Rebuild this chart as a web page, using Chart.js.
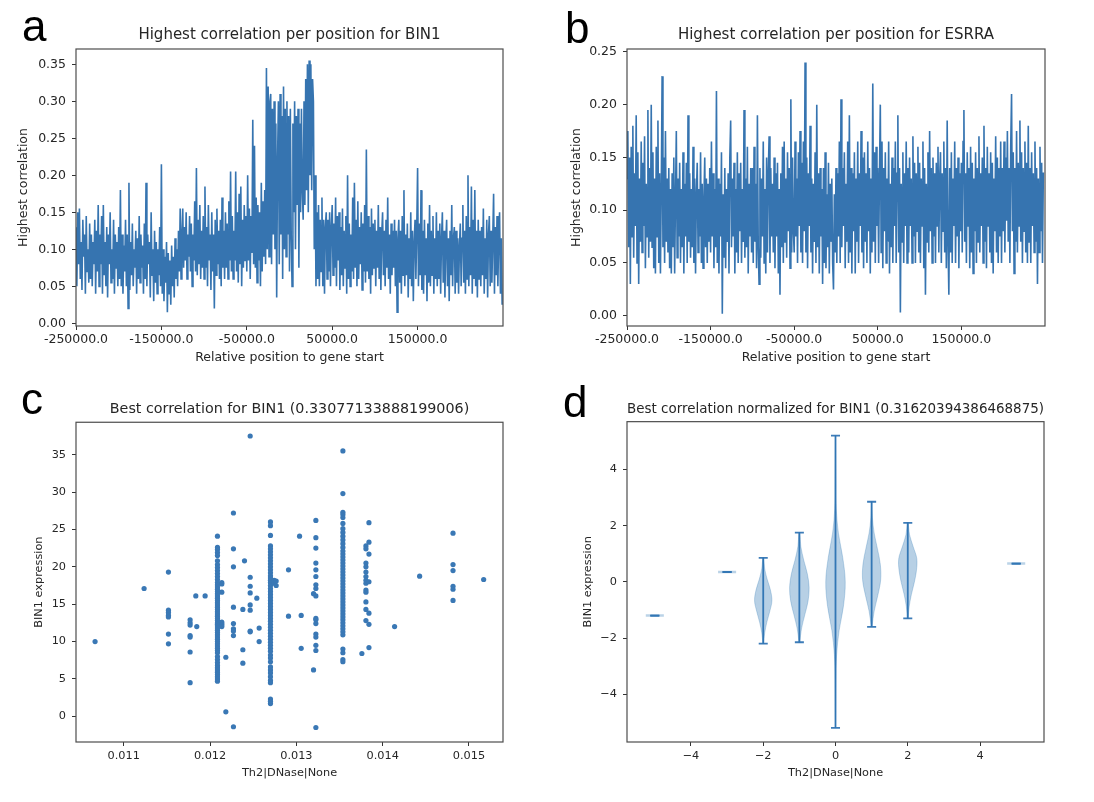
<!DOCTYPE html>
<html>
<head>
<meta charset="utf-8">
<script src="https://cdn.jsdelivr.net/npm/chart.js@4.4.0/dist/chart.umd.min.js"></script>
<style>
  html, body { margin: 0; padding: 0; background: #fff; }
  body { width: 1094px; height: 802px; position: relative; overflow: hidden; }
  .panel { position: absolute; }
  .tag { position: absolute; font-family: "Liberation Sans", Arial, sans-serif; font-size: 44px; line-height: 1; color: #000; }
</style>
</head>
<body>
<div class="panel" style="left:0;top:0;width:547px;height:380px"><canvas id="chartA" width="547" height="380"></canvas></div>
<div class="panel" style="left:547px;top:0;width:547px;height:380px"><canvas id="chartB" width="547" height="380"></canvas></div>
<div class="panel" style="left:0;top:380px;width:547px;height:422px"><canvas id="chartC" width="547" height="422"></canvas></div>
<div class="panel" style="left:547px;top:380px;width:547px;height:422px"><canvas id="chartD" width="547" height="422"></canvas></div>
<div class="tag" style="left:22px;top:4px">a</div>
<div class="tag" style="left:565px;top:6px">b</div>
<div class="tag" style="left:21px;top:377px">c</div>
<div class="tag" style="left:563px;top:380px">d</div>

<script>
// ---- data ----

// panels a/b: positions relative to gene start (one sample every 1000 bp)
const positionStart = -250000;
const positionStep = 1000;
const positionTicks = [-250000, -150000, -50000, 50000, 150000];

const bin1Correlation = [
  0.13,0.05,0.15,0.08,0.155,0.06,0.11,0.045,0.14,0.09,0.12,0.04,0.145,0.07,0.1,0.055,0.135,0.06,0.12,0.05,0.11,0.08,0.14,0.04,0.125,
  0.07,0.16,0.05,0.12,0.08,0.145,0.04,0.16,0.065,0.11,0.05,0.13,0.035,0.12,0.08,0.15,0.055,0.1,0.06,0.14,0.04,0.12,0.075,0.11,0.05,
  0.13,0.06,0.18,0.05,0.12,0.04,0.105,0.07,0.14,0.05,0.12,0.02,0.19,0.045,0.11,0.065,0.135,0.05,0.1,0.075,0.125,0.04,0.115,0.06,0.145,
  0.055,0.12,0.075,0.105,0.04,0.135,0.06,0.19,0.05,0.12,0.08,0.11,0.035,0.15,0.065,0.1,0.03,0.125,0.055,0.11,0.04,0.1,0.065,0.13,0.05,
  0.215,0.04,0.1,0.03,0.09,0.055,0.11,0.015,0.095,0.04,0.085,0.025,0.105,0.05,0.09,0.035,0.115,0.06,0.1,0.05,0.125,0.07,0.155,0.06,0.12,
  0.155,0.075,0.13,0.085,0.15,0.06,0.12,0.09,0.145,0.07,0.135,0.05,0.12,0.085,0.165,0.07,0.21,0.065,0.14,0.08,0.16,0.06,0.125,0.075,0.145,
  0.06,0.185,0.075,0.13,0.05,0.16,0.085,0.12,0.045,0.15,0.07,0.12,0.02,0.14,0.065,0.155,0.08,0.125,0.06,0.14,0.05,0.17,0.075,0.125,0.06,
  0.15,0.075,0.135,0.06,0.165,0.085,0.205,0.07,0.145,0.06,0.125,0.085,0.205,0.07,0.15,0.055,0.175,0.08,0.185,0.05,0.14,0.075,0.16,0.085,0.145,
  0.07,0.2,0.085,0.155,0.06,0.145,0.095,0.275,0.08,0.24,0.075,0.17,0.055,0.16,0.085,0.15,0.05,0.19,0.07,0.165,0.09,0.18,0.08,0.345,0.1,
  0.32,0.09,0.3,0.31,0.08,0.29,0.12,0.3,0.1,0.27,0.035,0.22,0.3,0.08,0.31,0.12,0.28,0.06,0.32,0.1,0.29,0.09,0.3,0.12,0.28,
  0.07,0.29,0.12,0.05,0.27,0.15,0.3,0.1,0.28,0.16,0.29,0.075,0.27,0.15,0.29,0.18,0.14,0.3,0.16,0.33,0.18,0.35,0.15,0.355,0.2,
  0.35,0.18,0.33,0.3,0.1,0.2,0.05,0.15,0.06,0.16,0.05,0.14,0.07,0.17,0.05,0.14,0.04,0.13,0.15,0.06,0.14,0.07,0.15,0.05,0.13,
  0.16,0.065,0.135,0.075,0.17,0.05,0.145,0.085,0.15,0.045,0.13,0.065,0.155,0.05,0.125,0.075,0.145,0.04,0.2,0.06,0.135,0.05,0.12,0.07,0.17,
  0.06,0.19,0.075,0.14,0.05,0.165,0.06,0.13,0.08,0.15,0.045,0.135,0.07,0.16,0.055,0.235,0.07,0.145,0.06,0.13,0.04,0.155,0.065,0.135,0.075,
  0.14,0.05,0.125,0.075,0.16,0.06,0.13,0.045,0.12,0.15,0.065,0.125,0.05,0.14,0.075,0.17,0.06,0.12,0.04,0.135,0.065,0.125,0.075,0.14,0.05,
  0.125,0.015,0.115,0.14,0.055,0.125,0.04,0.145,0.065,0.18,0.05,0.12,0.065,0.135,0.035,0.115,0.06,0.15,0.05,0.125,0.03,0.11,0.14,0.06,0.125,
  0.21,0.05,0.135,0.065,0.18,0.045,0.125,0.04,0.14,0.065,0.115,0.03,0.135,0.055,0.16,0.05,0.125,0.065,0.145,0.04,0.115,0.06,0.15,0.05,0.125,
  0.06,0.135,0.04,0.115,0.15,0.055,0.125,0.035,0.11,0.14,0.05,0.115,0.03,0.125,0.065,0.16,0.05,0.115,0.13,0.04,0.125,0.055,0.115,0.04,0.105,
  0.135,0.05,0.115,0.16,0.055,0.125,0.04,0.145,0.06,0.2,0.05,0.13,0.065,0.185,0.04,0.14,0.06,0.18,0.05,0.125,0.035,0.14,0.06,0.125,0.05,
  0.13,0.065,0.155,0.04,0.115,0.06,0.14,0.035,0.12,0.145,0.05,0.125,0.055,0.115,0.175,0.04,0.13,0.065,0.145,0.05,0.12,0.15,0.04,0.115,0.025
];

const esrraCorrelation = [
  0.13,0.175,0.065,0.15,0.03,0.16,0.075,0.18,0.055,0.135,0.085,0.19,0.05,0.155,0.03,0.13,0.07,0.165,0.06,0.145,0.085,0.17,0.045,0.125,0.075,
  0.195,0.055,0.14,0.07,0.2,0.065,0.155,0.045,0.13,0.04,0.16,0.075,0.185,0.05,0.135,0.04,0.12,0.227,0.065,0.15,0.05,0.175,0.07,0.13,0.06,
  0.14,0.045,0.12,0.04,0.135,0.065,0.15,0.04,0.11,0.175,0.055,0.13,0.075,0.145,0.05,0.12,0.065,0.155,0.04,0.125,0.075,0.145,0.05,0.19,0.07,
  0.135,0.055,0.12,0.065,0.16,0.05,0.13,0.04,0.115,0.145,0.06,0.12,0.075,0.155,0.05,0.125,0.045,0.11,0.15,0.065,0.13,0.05,0.125,0.07,0.14,
  0.06,0.165,0.075,0.135,0.045,0.12,0.065,0.213,0.05,0.13,0.04,0.125,0.075,0.155,0.002,0.115,0.055,0.14,0.045,0.12,0.07,0.135,0.04,0.15,0.185,
  0.065,0.13,0.075,0.145,0.04,0.12,0.06,0.155,0.05,0.135,0.08,0.145,0.05,0.12,0.07,0.195,0.055,0.13,0.065,0.16,0.04,0.125,0.075,0.14,0.06,
  0.14,0.05,0.16,0.07,0.125,0.045,0.19,0.065,0.03,0.14,0.055,0.13,0.075,0.165,0.05,0.12,0.04,0.15,0.06,0.135,0.17,0.05,0.14,0.075,0.125,
  0.06,0.15,0.045,0.135,0.075,0.145,0.04,0.12,0.02,0.135,0.065,0.16,0.05,0.165,0.07,0.13,0.055,0.155,0.08,0.14,0.045,0.205,0.06,0.15,0.08,
  0.06,0.165,0.075,0.13,0.05,0.155,0.085,0.175,0.06,0.145,0.05,0.165,0.08,0.24,0.06,0.15,0.045,0.135,0.085,0.18,0.06,0.13,0.04,0.125,0.07,
  0.155,0.05,0.2,0.065,0.135,0.04,0.14,0.075,0.12,0.03,0.14,0.05,0.155,0.045,0.115,0.065,0.145,0.04,0.125,0.07,0.13,0.05,0.025,0.115,0.06,
  0.14,0.05,0.135,0.075,0.165,0.05,0.205,0.065,0.14,0.085,0.155,0.045,0.125,0.07,0.165,0.05,0.19,0.06,0.14,0.04,0.135,0.08,0.155,0.04,0.13,
  0.07,0.165,0.05,0.135,0.085,0.175,0.06,0.15,0.045,0.155,0.07,0.135,0.05,0.165,0.08,0.14,0.04,0.13,0.06,0.22,0.07,0.155,0.05,0.16,0.085,
  0.14,0.05,0.135,0.2,0.06,0.165,0.045,0.14,0.08,0.155,0.05,0.13,0.07,0.165,0.04,0.125,0.065,0.15,0.05,0.14,0.085,0.165,0.05,0.135,0.19,
  0.06,0.14,0.003,0.125,0.07,0.155,0.05,0.135,0.085,0.165,0.05,0.14,0.06,0.15,0.085,0.13,0.05,0.17,0.075,0.145,0.05,0.135,0.08,0.16,0.06,
  0.145,0.05,0.13,0.085,0.165,0.045,0.14,0.02,0.125,0.07,0.155,0.06,0.175,0.08,0.14,0.05,0.15,0.075,0.135,0.05,0.145,0.085,0.16,0.06,0.13,
  0.155,0.05,0.135,0.08,0.165,0.06,0.14,0.045,0.185,0.07,0.02,0.14,0.06,0.155,0.05,0.13,0.085,0.165,0.05,0.14,0.075,0.15,0.045,0.135,0.08,
  0.145,0.06,0.165,0.195,0.07,0.135,0.05,0.155,0.085,0.14,0.045,0.16,0.06,0.145,0.04,0.13,0.08,0.155,0.05,0.14,0.07,0.17,0.06,0.135,0.085,
  0.15,0.05,0.18,0.07,0.14,0.045,0.16,0.085,0.135,0.06,0.155,0.05,0.145,0.04,0.13,0.08,0.17,0.06,0.15,0.05,0.14,0.075,0.165,0.05,0.14,
  0.08,0.165,0.06,0.15,0.09,0.175,0.07,0.14,0.05,0.16,0.21,0.08,0.155,0.04,0.14,0.07,0.175,0.06,0.145,0.085,0.185,0.07,0.155,0.05,0.14,
  0.08,0.165,0.06,0.145,0.05,0.18,0.07,0.14,0.05,0.155,0.085,0.135,0.06,0.165,0.07,0.14,0.03,0.13,0.06,0.16,0.08,0.145,0.05,0.135,0.135
];

// panel c: DNase signal levels and the BIN1 expression values found at each
const dnaseLevels = [
  0.010668, 0.011236, 0.011518, 0.011769, 0.011835, 0.011846, 0.011943, 0.012086,
  0.012136, 0.012183, 0.012271, 0.01238, 0.012399, 0.012465, 0.012542, 0.012569,
  0.0127, 0.012743, 0.012766, 0.012909, 0.013037, 0.013056, 0.013199, 0.013226,
  0.013539, 0.013759, 0.013806, 0.013841, 0.014138, 0.014428, 0.014815, 0.01517
];
const expressionAtLevel = [
  [10.0],
  [17.1],
  [19.3, 14.2, 13.9, 13.5, 13.3, 11.0, 9.7],
  [12.9, 12.5, 12.2, 10.8, 10.6, 8.6, 4.5],
  [16.1],
  [12.0],
  [16.1],
  [24.1, 22.6, 22.3, 21.9, 21.5, 20.8, 20.3, 19.9, 19.5, 19.1, 18.7, 18.3, 17.9, 17.6,
   17.3, 17.0, 16.7, 16.4, 16.1, 15.8, 15.5, 15.2, 14.9, 14.6, 14.3, 14.0, 13.7, 13.4,
   13.1, 12.8, 12.5, 12.3, 12.1, 11.8, 11.5, 11.2, 10.9, 10.6, 10.3, 10.0, 9.7, 9.4,
   9.1, 8.8, 8.5, 8.0, 7.6, 7.2, 6.8, 6.5, 6.2, 5.9, 5.6, 5.3, 5.0, 4.7],
  [17.9, 17.7, 16.6, 12.6, 12.4, 12.2, 12.0],
  [7.9, 0.6],
  [27.2, 22.4, 20.0, 14.6, 12.4, 11.7, 11.4, 10.8, -1.4],
  [8.9, 7.1, 14.3],
  [20.8],
  [37.5, 18.6, 17.4, 16.5, 14.9, 14.2, 11.4, 11.3],
  [15.8],
  [11.8, 10.0],
  [26.0, 25.5, 24.2, 22.8, 22.4, 22.0, 21.6, 21.2, 20.8, 20.4, 20.0, 19.6, 19.2, 18.8,
   18.5, 18.2, 17.9, 17.5, 17.1, 16.7, 16.3, 15.9, 15.5, 15.1, 14.7, 14.3, 13.9, 13.5,
   13.1, 12.7, 12.3, 11.9, 11.5, 11.1, 10.7, 10.3, 9.9, 9.5, 9.1, 8.7, 8.2, 7.8, 7.3,
   6.6, 6.2, 5.8, 5.3, 4.8, 4.5, 2.3, 2.0, 1.7],
  [18.2, 17.8],
  [18.1, 17.5],
  [19.6, 13.4],
  [24.1],
  [13.5, 9.1],
  [6.2, 16.4],
  [26.2, 23.9, 22.5, 20.5, 19.6, 18.7, 17.6, 17.1, 16.1, 13.1, 12.9, 12.4, 11.0, 10.6, 9.5, 8.8, -1.5],
  [35.5, 29.8, 27.3, 27.0, 26.6, 25.8, 25.1, 24.6, 24.1, 23.6, 23.1, 22.6, 22.1, 21.7,
   21.3, 20.9, 20.5, 20.1, 19.7, 19.3, 18.9, 18.5, 18.1, 17.7, 17.3, 16.9, 16.5, 16.1,
   15.7, 15.3, 14.9, 14.5, 14.1, 13.7, 13.3, 12.9, 12.5, 12.1, 11.7, 11.3, 10.9, 9.0,
   8.5, 7.6, 7.3],
  [8.4],
  [22.8, 22.4, 20.5, 20.0, 19.3, 18.7, 18.2, 17.8, 16.9, 16.6, 15.3, 14.3, 12.8],
  [25.9, 23.3, 21.7, 18.0, 13.8, 12.3, 9.2],
  [12.0],
  [18.75],
  [24.5, 20.3, 19.5, 17.4, 17.0, 15.5],
  [18.3]
];

// panel d: violins (normalized DNase level -> BIN1 expression)
const violinPositions = [-5, -3, -2, -1, 0, 1, 2, 5];
const violinMins = [-1.2, 0.35, -2.2, -2.15, -5.2, -1.6, -1.3, 0.65];
const violinMaxs = [-1.2, 0.35, 0.85, 1.75, 5.2, 2.85, 2.1, 0.65];
// half widths of each body, from its minimum up to its maximum
const violinHalfWidths = [
  [],
  [],
  [0.01, 0.04, 0.10, 0.18, 0.24, 0.20, 0.11, 0.04, 0.01],
  [0.01, 0.06, 0.15, 0.24, 0.27, 0.22, 0.12, 0.04, 0.01],
  [0, 0.005, 0.01, 0.03, 0.10, 0.22, 0.27, 0.20, 0.08, 0.02, 0.01, 0.005, 0],
  [0.01, 0.07, 0.17, 0.25, 0.24, 0.16, 0.07, 0.02, 0.005],
  [0.01, 0.04, 0.10, 0.18, 0.24, 0.25, 0.15, 0.05, 0.01],
  []
];

// ---- styling helpers ----
const FONT = "'DejaVu Sans', sans-serif";
const INK = "#262626";
const BLUE = "#3674b0";

const framePlugin = {
  id: "frame",
  afterDraw(chart) {
    const { ctx, chartArea: a } = chart;
    ctx.save();
    ctx.strokeStyle = "#4d4d4d";
    ctx.lineWidth = 1.2;
    ctx.strokeRect(a.left, a.top, a.right - a.left, a.bottom - a.top);
    ctx.restore();
  }
};

function axis(o) {
  return {
    type: "linear",
    min: o.min,
    max: o.max,
    afterBuildTicks: (s) => { s.ticks = o.ticks.map((v) => ({ value: v })); },
    afterFit: (s) => { if (s.isHorizontal()) s.height = o.size; else s.width = o.size; },
    border: { display: false },
    grid: { drawOnChartArea: false, drawTicks: true, tickLength: 4, tickWidth: 1, tickColor: "#333" },
    ticks: {
      color: INK, autoSkip: false, maxRotation: 0, padding: o.pad,
      font: { family: FONT, size: o.fontSize },
      callback: o.format
    },
    title: {
      display: true, text: o.title, color: INK,
      font: { family: FONT, size: o.fontSize },
      padding: o.titlePad
    }
  };
}

function baseOptions(title, titleSize, titlePad, rightPad, scales) {
  return {
    responsive: false,
    animation: false,
    events: [],
    layout: { padding: { left: 0, right: rightPad, top: 0, bottom: 0 } },
    plugins: {
      legend: { display: false },
      tooltip: { enabled: false },
      title: {
        display: true, text: title, fullSize: false, color: INK,
        font: { family: FONT, size: titleSize, weight: "normal" },
        padding: titlePad
      }
    },
    scales
  };
}

const minusSign = (v) => String(v).replace("-", "\u2212");

// ---- panel a ----
new Chart(document.getElementById("chartA"), {
  type: "line",
  data: {
    datasets: [{
      data: bin1Correlation.map((v, i) => ({ x: positionStart + i * positionStep, y: v })),
      borderColor: BLUE, borderWidth: 1.6, pointRadius: 0, tension: 0, fill: false
    }]
  },
  options: baseOptions("Highest correlation per position for BIN1", 15, { top: 26, bottom: 5 }, 44, {
    x: axis({ min: -250000, max: 250000, ticks: positionTicks, size: 54, pad: 2, fontSize: 12.5,
      format: (v) => v.toFixed(1), title: "Relative position to gene start", titlePad: { top: 0, bottom: 14.5 } }),
    y: axis({ min: -0.0036, max: 0.3707, ticks: [0, 0.05, 0.1, 0.15, 0.2, 0.25, 0.3, 0.35], size: 76, pad: 6, fontSize: 12.5,
      format: (v) => v.toFixed(2), title: "Highest correlation", titlePad: { top: 16.5, bottom: 0 } })
  }),
  plugins: [framePlugin]
});

// ---- panel b ----
new Chart(document.getElementById("chartB"), {
  type: "line",
  data: {
    datasets: [{
      data: esrraCorrelation.map((v, i) => ({ x: positionStart + i * positionStep, y: v })),
      borderColor: BLUE, borderWidth: 1.6, pointRadius: 0, tension: 0, fill: false
    }]
  },
  options: baseOptions("Highest correlation per position for ESRRA", 15, { top: 26, bottom: 5 }, 49, {
    x: axis({ min: -250000, max: 250000, ticks: positionTicks, size: 54, pad: 2, fontSize: 12.5,
      format: (v) => v.toFixed(1), title: "Relative position to gene start", titlePad: { top: 0, bottom: 14.5 } }),
    y: axis({ min: -0.0097, max: 0.2527, ticks: [0, 0.05, 0.1, 0.15, 0.2, 0.25], size: 80, pad: 6, fontSize: 12.5,
      format: (v) => v.toFixed(2), title: "Highest correlation", titlePad: { top: 22, bottom: 0 } })
  }),
  plugins: [framePlugin]
});

// ---- panel c ----
const scatterPoints = [];
dnaseLevels.forEach((x, i) => {
  expressionAtLevel[i].forEach((y) => scatterPoints.push({ x, y }));
});

new Chart(document.getElementById("chartC"), {
  type: "scatter",
  data: {
    datasets: [{
      data: scatterPoints,
      backgroundColor: "#3a78b5", borderWidth: 0, pointRadius: 2.6
    }]
  },
  options: baseOptions("Best correlation for BIN1 (0.33077133888199006)", 14.3, { top: 20.7, bottom: 4.4 }, 44, {
    x: axis({ min: 0.010447, max: 0.015394, ticks: [0.011, 0.012, 0.013, 0.014, 0.015], size: 60, pad: 3, fontSize: 11.3,
      format: (v) => v.toFixed(3), title: "Th2|DNase|None", titlePad: { top: 0, bottom: 22 } }),
    y: axis({ min: -3.44, max: 39.34, ticks: [0, 5, 10, 15, 20, 25, 30, 35], size: 76, pad: 6, fontSize: 11.3,
      format: (v) => String(v), title: "BIN1 expression", titlePad: { top: 32.6, bottom: 0 } })
  }),
  plugins: [framePlugin]
});

// ---- panel d ----
const violinSets = [];
const BODY = "rgba(31,110,175,0.32)";
const STROKE = "#3d7cb8";
violinPositions.forEach((pos, i) => {
  const lo = violinMins[i], hi = violinMaxs[i], w = violinHalfWidths[i];
  if (w.length) {
    const level = (k) => lo + (hi - lo) * k / (w.length - 1);
    const right = w.map((hw, k) => ({ x: pos + hw, y: level(k) }));
    const left = w.map((hw, k) => ({ x: pos - hw, y: level(k) })).reverse();
    violinSets.push({
      data: right.concat(left), showLine: true, pointRadius: 0, tension: 0.35,
      borderColor: "rgba(31,110,175,0.25)", borderWidth: 1, backgroundColor: BODY, fill: "shape"
    });
  } else {
    violinSets.push({
      data: [{ x: pos - 0.25, y: lo }, { x: pos + 0.25, y: lo }], showLine: true, pointRadius: 0,
      borderColor: "rgba(31,110,175,0.3)", borderWidth: 2.5
    });
  }
});
violinPositions.forEach((pos, i) => {
  const lo = violinMins[i], hi = violinMaxs[i];
  const line = (pts) => ({ data: pts, showLine: true, pointRadius: 0, borderColor: STROKE, borderWidth: 1.8 });
  if (hi > lo) violinSets.push(line([{ x: pos, y: lo }, { x: pos, y: hi }]));
  violinSets.push(line([{ x: pos - 0.125, y: lo }, { x: pos + 0.125, y: lo }]));
  violinSets.push(line([{ x: pos - 0.125, y: hi }, { x: pos + 0.125, y: hi }]));
});

new Chart(document.getElementById("chartD"), {
  type: "scatter",
  data: { datasets: violinSets },
  options: baseOptions("Best correlation normalized for BIN1 (0.31620394386468875)", 13.8, { top: 20.7, bottom: 4.4 }, 50, {
    x: axis({ min: -5.77, max: 5.77, ticks: [-4, -2, 0, 2, 4], size: 60, pad: 3, fontSize: 11.3,
      format: minusSign, title: "Th2|DNase|None", titlePad: { top: 0, bottom: 22 } }),
    y: axis({ min: -5.7, max: 5.7, ticks: [-4, -2, 0, 2, 4], size: 80, pad: 6, fontSize: 11.3,
      format: minusSign, title: "BIN1 expression", titlePad: { top: 34.6, bottom: 0 } })
  }),
  plugins: [framePlugin]
});
</script>
</body>
</html>
